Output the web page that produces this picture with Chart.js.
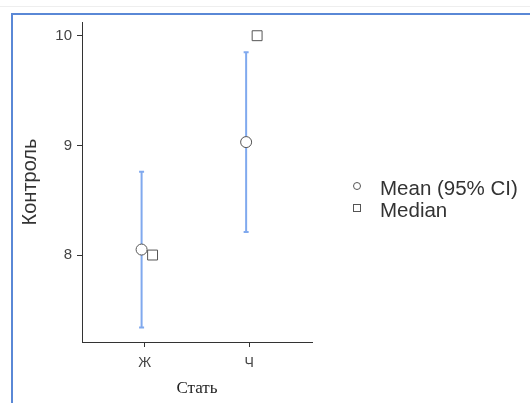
<!DOCTYPE html>
<html>
<head>
<meta charset="utf-8">
<script src="https://cdn.jsdelivr.net/npm/chart.js@4"></script>
<style>
  html, body { margin: 0; padding: 0; background: #fff; }
  #wrap { position: relative; width: 530px; height: 403px; }
</style>
</head>
<body>
<div id="wrap"><canvas id="meanChart"></canvas></div>
<script>
// Data
const categories = ["Ж", "Ч"];
const categoryX = [1, 2];
const meanValues = [8.05, 9.03];
const ciLower = [7.34, 8.21];
const ciUpper = [8.76, 9.85];
const medianValues = [8, 10];
const yTickValues = [8, 9, 10];

const legendLabels = ["Mean (95% CI)", "Median"];

const MEAN_SHIFT = -0.03;
const MEDIAN_SHIFT = 0.075;

// frame + light rule at top, like the screenshot
const framePlugin = {
  id: "frame",
  beforeDraw(chart) {
    const ctx = chart.ctx;
    ctx.save();
    ctx.strokeStyle = "#eeeeee";
    ctx.lineWidth = 1;
    ctx.beginPath();
    ctx.moveTo(0, 6.5);
    ctx.lineTo(chart.width, 6.5);
    ctx.stroke();
    ctx.strokeStyle = "#5a88d6";
    ctx.lineWidth = 2;
    ctx.beginPath();
    ctx.moveTo(12, chart.height);
    ctx.lineTo(12, 14);
    ctx.lineTo(chart.width, 14);
    ctx.stroke();
    ctx.restore();
  },
};

// 95% CI error bars
const errorBarPlugin = {
  id: "errorBars",
  beforeDatasetsDraw(chart) {
    const ctx = chart.ctx;
    const xs = chart.scales.x;
    const ys = chart.scales.y;
    ctx.save();
    ctx.strokeStyle = "#80a9ee";
    ctx.lineWidth = 2;
    for (let i = 0; i < categoryX.length; i++) {
      const px = xs.getPixelForValue(categoryX[i] + MEAN_SHIFT);
      const top = ys.getPixelForValue(ciUpper[i]);
      const bottom = ys.getPixelForValue(ciLower[i]);
      ctx.beginPath();
      ctx.moveTo(px, top);
      ctx.lineTo(px, bottom);
      ctx.moveTo(px - 2.5, top);
      ctx.lineTo(px + 2.5, top);
      ctx.moveTo(px - 2.5, bottom);
      ctx.lineTo(px + 2.5, bottom);
      ctx.stroke();
    }
    ctx.restore();
  },
};

// legend on the right
const sideLegendPlugin = {
  id: "sideLegend",
  afterDraw(chart) {
    const ctx = chart.ctx;
    ctx.save();
    ctx.strokeStyle = "#555555";
    ctx.lineWidth = 1;
    ctx.beginPath();
    ctx.arc(357, 186, 3.5, 0, Math.PI * 2);
    ctx.stroke();
    ctx.strokeRect(353.5, 204.5, 7, 7);
    ctx.fillStyle = "#333333";
    ctx.font = "20.5px 'Liberation Sans', Arial, sans-serif";
    ctx.textBaseline = "middle";
    ctx.fillText(legendLabels[0], 380, 189);
    ctx.fillText(legendLabels[1], 380, 211);
    ctx.restore();
  },
};

new Chart(document.getElementById("meanChart"), {
  type: "scatter",
  data: {
    datasets: [
      {
        label: legendLabels[0],
        data: categoryX.map((x, i) => ({ x: x + MEAN_SHIFT, y: meanValues[i] })),
        pointStyle: "circle",
        pointRadius: 5.5,
        backgroundColor: "#ffffff",
        borderColor: "#555555",
        borderWidth: 1,
      },
      {
        label: legendLabels[1],
        data: categoryX.map((x, i) => ({ x: x + MEDIAN_SHIFT, y: medianValues[i] })),
        pointStyle: "rect",
        pointRadius: 7,
        backgroundColor: "#ffffff",
        borderColor: "#555555",
        borderWidth: 1,
      },
    ],
  },
  options: {
    responsive: true,
    maintainAspectRatio: false,
    animation: false,
    layout: {
      padding: { left: 0, top: 22, right: 218, bottom: 0 },
    },
    plugins: {
      legend: { display: false },
      tooltip: { enabled: false },
    },
    scales: {
      x: {
        type: "linear",
        min: 0.4,
        max: 2.6,
        afterFit(scale) {
          scale.height = 61;
        },
        afterBuildTicks(scale) {
          scale.ticks = categoryX.map((v) => ({ value: v }));
        },
        border: { color: "#333333", width: 1 },
        grid: {
          drawOnChartArea: false,
          drawTicks: true,
          tickLength: 5,
          color: "#333333",
        },
        ticks: {
          padding: 8,
          color: "#444444",
          font: { family: "'Liberation Sans', Arial, sans-serif", size: 14 },
          callback: function (value) {
            return categories[categoryX.indexOf(value)];
          },
        },
        title: {
          display: true,
          text: "Стать",
          color: "#222222",
          padding: { top: 0, bottom: 4 },
          font: { family: "'Liberation Serif', 'Times New Roman', serif", size: 17 },
        },
      },
      y: {
        type: "linear",
        min: 7.207,
        max: 10.125,
        afterFit(scale) {
          scale.width = 82;
        },
        afterBuildTicks(scale) {
          scale.ticks = yTickValues.map((v) => ({ value: v }));
        },
        border: { color: "#333333", width: 1 },
        grid: {
          drawOnChartArea: false,
          drawTicks: true,
          tickLength: 5,
          color: "#333333",
        },
        ticks: {
          padding: 5,
          color: "#444444",
          font: { family: "'Liberation Sans', Arial, sans-serif", size: 15 },
        },
        title: {
          display: true,
          text: "Контроль",
          color: "#333333",
          padding: { top: 18, bottom: 0 },
          font: { family: "'Liberation Sans', Arial, sans-serif", size: 20 },
        },
      },
    },
  },
  plugins: [framePlugin, errorBarPlugin, sideLegendPlugin],
});
</script>
</body>
</html>
